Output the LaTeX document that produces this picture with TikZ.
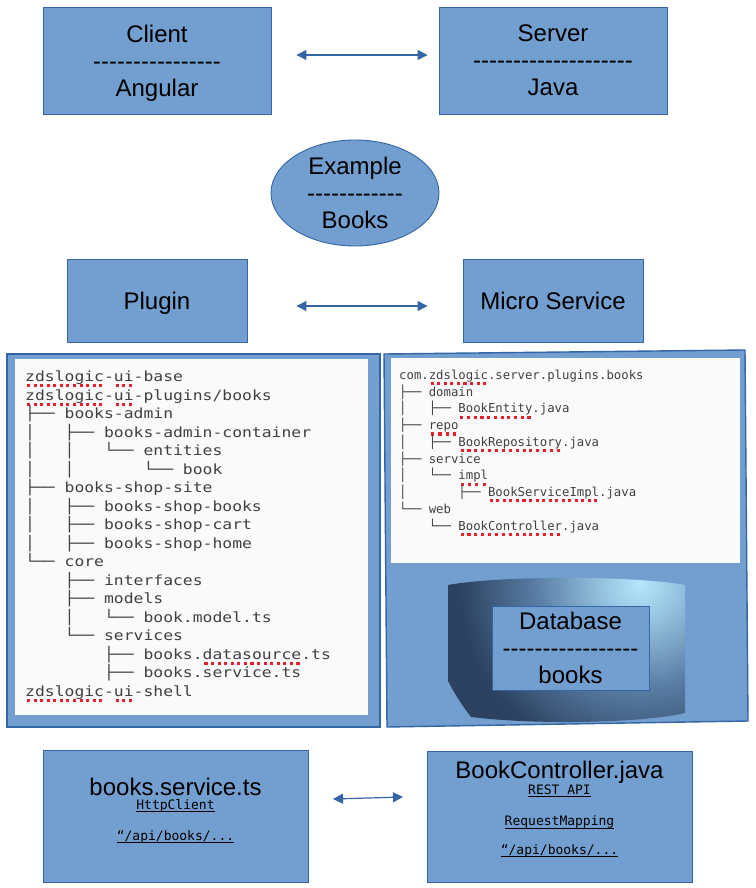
\documentclass[tikz,border=0pt]{standalone}
\usepackage{fontspec}
\setmainfont{Liberation Sans}[Ligatures=TeXOff]
\newfontfamily\lefttree{DejaVu Sans Mono}[FakeStretch=1.17]
\newfontfamily\righttree{DejaVu Sans Mono}
\newfontfamily\codefont{DejaVu Sans Mono}
\usetikzlibrary{arrows.meta,shapes.geometric}
\definecolor{boxfill}{HTML}{729FCF}
\definecolor{boxline}{HTML}{3465A4}
\definecolor{treegray}{HTML}{404040}
\definecolor{spellred}{HTML}{E8202A}
\definecolor{dbdark}{HTML}{2C4260}
\definecolor{dbmid}{HTML}{5A7EA6}
\definecolor{dblight}{HTML}{B4E6FC}
\definecolor{panelwhite}{HTML}{FAFAFA}
\newcommand\spl[1]{\setbox0=\hbox{#1}\rlap{\raisebox{-5.8pt}{\color{spellred}\hbox to \wd0{\xleaders\hbox to 6.5pt{\hss\rule{3.1pt}{3.1pt}\hss}\hfill}}}\box0}
\newcommand\tsp{\setbox2=\hbox{00}\setbox4=\hbox{0}\hbox to \dimexpr\wd2-\wd4\relax{}}
\newcommand\ulk[1]{\setbox0=\hbox{#1}\rlap{\rule[-2.5pt]{\wd0}{0.8pt}}\box0}
\pgfdeclareradialshading{dbshade}{\pgfpoint{0bp}{0bp}}{color(0bp)=(dblight); color(4bp)=(dblight!70!dbmid); color(12bp)=(dbmid); color(21bp)=(dbdark); color(50bp)=(dbdark)}
\tikzset{
  bluebox/.style={draw=boxline, fill=boxfill, line width=0.9pt, inner sep=0pt,
    font=\fontsize{24}{27}\selectfont, align=center, text depth=0pt},
  panel/.style={draw=boxline, fill=boxfill, line width=1.4pt},
  whitepanel/.style={fill=panelwhite, draw=none, inner sep=0pt},
  conn/.style={draw=boxline, line width=1.2pt, arrows={Triangle[length=10pt,width=10pt]-Triangle[length=10pt,width=10pt]}},
  ltree/.style={anchor=base west, inner sep=0pt, text=treegray, font=\lefttree\fontsize{14}{16}\selectfont},
  rtree/.style={anchor=base west, inner sep=0pt, text=treegray, font=\righttree\fontsize{12.3}{14}\selectfont},
  bigtext/.style={anchor=base, inner sep=0pt, font=\fontsize{24}{27}\selectfont},
  codetext/.style={anchor=base, inner sep=0pt, font=\codefont\fontsize{13}{15}\selectfont},
}
\begin{document}
\begin{tikzpicture}[x=1pt,y=-1pt]
\useasboundingbox (0,0) rectangle (755,888);
\fill[white] (0,0) rectangle (755,888);

% top row
\node[bluebox, minimum width=228pt, minimum height=107pt] (client) at (157,60.5) {Client\\----------------\\Angular};
\node[bluebox, minimum width=228pt, minimum height=107pt] (server) at (553,60.5) {Server\\--------------------\\Java};
\draw[conn, shorten <=25pt, shorten >=11pt] ([yshift=5.5pt]client.east) -- ([yshift=5.5pt]server.west);

\node[bluebox, ellipse, minimum width=168pt, minimum height=106pt] (example) at (355,193) {Example\\------------\\Books};

\node[bluebox, minimum width=180pt, minimum height=83pt] (plugin) at (157,300.5) {Plugin};
\node[bluebox, minimum width=180pt, minimum height=83pt] (micro) at (553,300.5) {Micro Service};
\draw[conn, shorten <=49pt, shorten >=35pt] ([yshift=-5.5pt]plugin.east) -- ([yshift=-5.5pt]micro.west);

% left panel
\node[panel, minimum width=373pt, minimum height=373pt] (leftpanel) at (193.5,540.5) {};
\node[whitepanel, minimum width=353pt, minimum height=356pt] (leftwhite) at (191.5,537) {};
\foreach \t [count=\i from 0] in {
  \spl{zdslogic}-\spl{ui}-base,
  \spl{zdslogic}-\spl{ui}-plugins/books,
  ├──\tsp books-admin,
  │\tsp\tsp\tsp├──\tsp books-admin-container,
  │\tsp\tsp\tsp│\tsp\tsp\tsp└──\tsp entities,
  │\tsp\tsp\tsp│\tsp\tsp\tsp\tsp\tsp\tsp\tsp└──\tsp book,
  ├──\tsp books-shop-site,
  │\tsp\tsp\tsp├──\tsp books-shop-books,
  │\tsp\tsp\tsp├──\tsp books-shop-cart,
  │\tsp\tsp\tsp├──\tsp books-shop-home,
  └──\tsp core,
  \tsp\tsp\tsp\tsp├──\tsp interfaces,
  \tsp\tsp\tsp\tsp├──\tsp models,
  \tsp\tsp\tsp\tsp│\tsp\tsp\tsp└──\tsp book.model.ts,
  \tsp\tsp\tsp\tsp└──\tsp services,
  \tsp\tsp\tsp\tsp\tsp\tsp\tsp\tsp├──\tsp books.\spl{datasource}.ts,
  \tsp\tsp\tsp\tsp\tsp\tsp\tsp\tsp├──\tsp books.service.ts,
  \spl{zdslogic}-\spl{ui}-shell}
  \node[ltree] (lt\i) at (25,{381.5+\i*18.5}) {\t};

% right panel
\draw[panel] (384,354) -- (745,350) -- (748,721) -- (387,727) -- cycle;
\node[whitepanel, minimum width=349pt, minimum height=205pt] (rightwhite) at (565.5,460.5) {};
\foreach \t [count=\i from 0] in {
  com.\spl{zdslogic}.server.plugins.books,
  ├──\tsp domain,
  │\tsp\tsp\tsp├──\tsp \spl{BookEntity}.java,
  ├──\tsp \spl{repo},
  │\tsp\tsp\tsp├──\tsp \spl{BookRepository}.java,
  ├──\tsp service,
  │\tsp\tsp\tsp└──\tsp \spl{impl},
  │\tsp\tsp\tsp\tsp\tsp\tsp\tsp├──\tsp \spl{BookServiceImpl}.java,
  └──\tsp web,
  \tsp\tsp\tsp\tsp└──\tsp \spl{BookController}.java}
  \node[rtree] (rt\i) at (399,{379.5+\i*16.74}) {\t};

% database cylinder
\begin{scope}
  \clip (448,585) .. controls (500,575.5) and (633,575.5) .. (685,585)
        -- (685,713) .. controls (633,725) and (500,725) .. (448,713) -- cycle;
  \shade[shading=dbshade] (640,584) circle (215pt);
\end{scope}
\node[bluebox, minimum width=157pt, minimum height=84pt] (database) at (570.5,648) {Database\\-----------------\\books};

% bottom row
\node[bluebox, minimum width=265pt, minimum height=132pt] (svc) at (175.5,816) {};
\node[bigtext] (svctitle) at (175.5,795) {books.service.ts};
\node[codetext] (svchttp) at (175.5,809.5) {\ulk{HttpClient}};
\node[codetext] (svcapi) at (175.5,840.5) {\ulk{“/api/books/...}};

\node[bluebox, minimum width=265pt, minimum height=131pt] (ctrl) at (559.5,816.5) {};
\node[bigtext] (ctrltitle) at (559.5,778) {BookController.java};
\node[codetext] (ctrlrest) at (559.5,794.5) {\ulk{REST API}};
\node[codetext] (ctrlmap) at (559.5,825.8) {\ulk{RequestMapping}};
\node[codetext] (ctrlapi) at (559.5,854.5) {\ulk{“/api/books/...}};

\coordinate (svcarr) at (333,799);
\coordinate (ctrlarr) at (403,797);
\draw[conn] (svcarr) -- (ctrlarr);
\end{tikzpicture}
\end{document}
